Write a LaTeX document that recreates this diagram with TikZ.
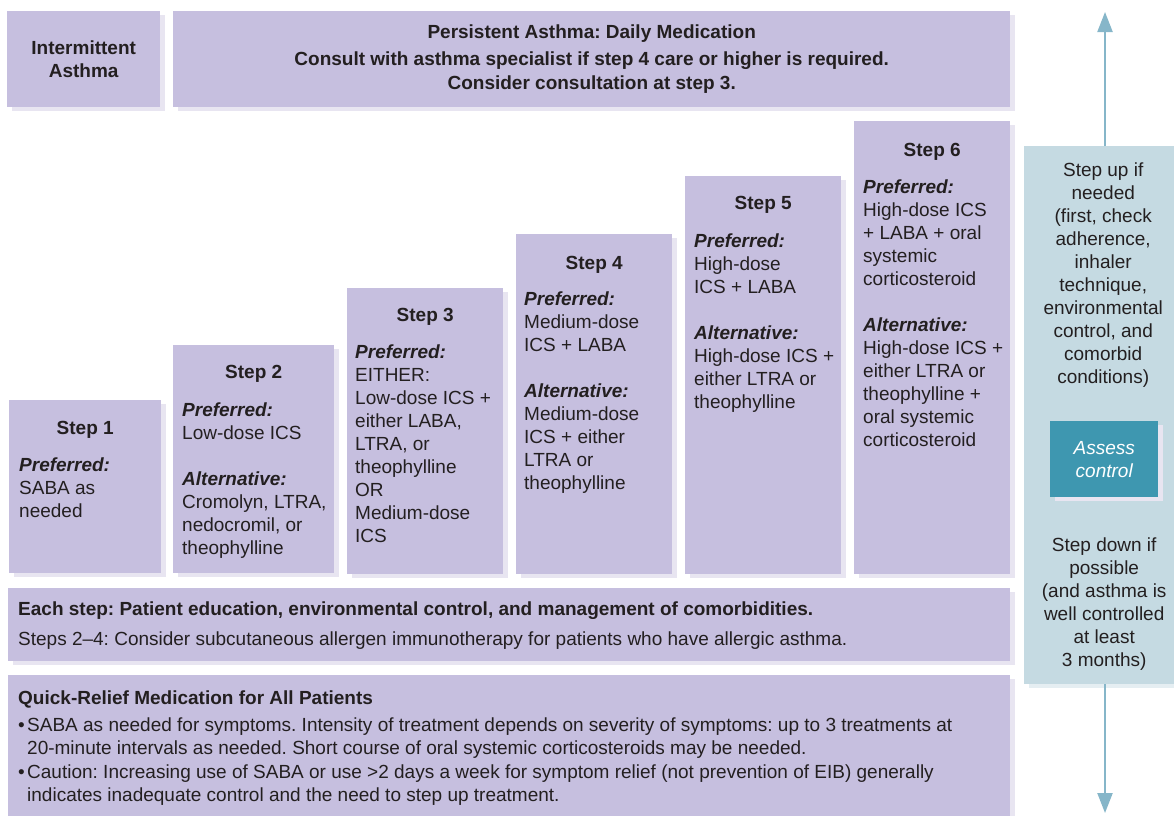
\documentclass[tikz,border=0pt]{standalone}
\usepackage{fontspec}
\setmainfont{Liberation Sans}
\usepackage{tikz}
\usetikzlibrary{positioning,shadows,arrows.meta}

\definecolor{lav}{HTML}{C6BFDF}
\definecolor{lavshade}{HTML}{E8E5F1}
\definecolor{paleblue}{HTML}{C5DAE2}
\definecolor{assesscol}{HTML}{3E97B0}
\definecolor{arrowcol}{HTML}{86B6C9}
\definecolor{ink}{HTML}{231F20}

\newcommand{\preflabel}{\textbf{\textit{Preferred:}}}
\newcommand{\altlabel}{\textbf{\textit{Alternative:}}}
\frenchspacing

\begin{document}
\begin{tikzpicture}[x=1pt, y=-1pt,
    every node/.append style={text=ink},
    box/.style={fill=lav, inner sep=0pt, anchor=north west,
      font=\fontsize{19}{23}\selectfont\bfseries, align=center,
      drop shadow={shadow xshift=5pt, shadow yshift=-4pt, fill=lavshade, opacity=1}},
    sidebox/.style={box, fill=paleblue,
      drop shadow={shadow xshift=5pt, shadow yshift=-4pt, fill=paleblue!45, opacity=1}},
    steptitle/.style={inner sep=0pt, anchor=base, font=\fontsize{19}{23}\selectfont\bfseries},
    stepbody/.style={inner sep=0pt, anchor=north west, align=left, font=\fontsize{19}{23}\selectfont},
    sidetext/.style={inner sep=0pt, anchor=north, align=center, font=\fontsize{19}{23}\selectfont},
    updown/.style={draw=arrowcol, line width=2.2pt, -{Triangle[width=15pt,length=20pt]}}]

    \useasboundingbox (0,0) rectangle (1174,815);

    % top row
    \node[box, minimum width=153pt, minimum height=96pt] (inter) at (7,11)
      {Intermittent\\Asthma};
    \node[box, minimum width=837pt, minimum height=96pt] (persist) at (173,11)
      {Persistent Asthma: Daily Medication\\[4pt]
       Consult with asthma specialist if step 4 care or higher is required.\\[1pt]
       Consider consultation at step 3.};

    % steps
    \node[box, minimum width=152pt, minimum height=173pt] (s1) at (9,400) {};
    \node[steptitle] (s1t) at ([yshift=-34pt]s1.north) {Step 1};
    \node[stepbody, below right=58pt and 10pt of s1.north west] (s1b)
      {\preflabel\\SABA as\\needed};

    \node[box, minimum width=161pt, minimum height=228pt] (s2) at (173,345) {};
    \node[steptitle] (s2t) at ([yshift=-33pt]s2.north) {Step 2};
    \node[stepbody, below right=58pt and 9pt of s2.north west] (s2b)
      {\preflabel\\Low-dose ICS\\[23pt]\altlabel\\Cromolyn, LTRA,\\nedocromil, or\\theophylline};

    \node[box, minimum width=156pt, minimum height=286pt] (s3) at (347,288) {};
    \node[steptitle] (s3t) at ([yshift=-33pt]s3.north) {Step 3};
    \node[stepbody, below right=57pt and 8pt of s3.north west] (s3b)
      {\preflabel\\EITHER:\\Low-dose ICS +\\either LABA,\\LTRA, or\\theophylline\\OR\\Medium-dose\\ICS};

    \node[box, minimum width=156pt, minimum height=340pt] (s4) at (516,234) {};
    \node[steptitle] (s4t) at ([yshift=-35pt]s4.north) {Step 4};
    \node[stepbody, below right=58pt and 8pt of s4.north west] (s4b)
      {\preflabel\\Medium-dose\\ICS + LABA\\[23pt]\altlabel\\Medium-dose\\ICS + either\\LTRA or\\theophylline};

    \node[box, minimum width=156pt, minimum height=398pt] (s5) at (685,176) {};
    \node[steptitle] (s5t) at ([yshift=-33pt]s5.north) {Step 5};
    \node[stepbody, below right=58pt and 9pt of s5.north west] (s5b)
      {\preflabel\\High-dose\\ICS + LABA\\[23pt]\altlabel\\High-dose ICS +\\either LTRA or\\theophylline};

    \node[box, minimum width=156pt, minimum height=453pt] (s6) at (854,121) {};
    \node[steptitle] (s6t) at ([yshift=-35pt]s6.north) {Step 6};
    \node[stepbody, below right=59pt and 9pt of s6.north west] (s6b)
      {\preflabel\\High-dose ICS\\+ LABA + oral\\systemic\\corticosteroid\\[23pt]\altlabel\\High-dose ICS +\\either LTRA or\\theophylline +\\oral systemic\\corticosteroid};

    % bottom boxes
    \node[box, minimum width=1002pt, minimum height=73pt] (each) at (8,588) {};
    \node[stepbody, below right=14pt and 10pt of each.north west] (eacht)
      {\textbf{Each step: Patient education, environmental control, and management of comorbidities.}\\[7pt]
       Steps 2--4: Consider subcutaneous allergen immunotherapy for patients who have allergic asthma.};

    \node[box, minimum width=1002pt, minimum height=160pt] (quick) at (8,675) {};
    \node[stepbody, below right=16pt and 10pt of quick.north west] (quickt)
      {\textbf{Quick-Relief Medication for All Patients}\\[4pt]
       \makebox[9pt][l]{\textbullet}SABA as needed for symptoms. Intensity of treatment depends on severity of symptoms: up to 3 treatments at\\
       \hspace*{9pt}20-minute intervals as needed. Short course of oral systemic corticosteroids may be needed.\\[1pt]
       \makebox[9pt][l]{\textbullet}Caution: Increasing use of SABA or use >2 days a week for symptom relief (not prevention of EIB) generally\\
       \hspace*{9pt}indicates inadequate control and the need to step up treatment.};

    % right panel
    \node[sidebox, minimum width=158pt, minimum height=538pt] (ctl) at (1024,146) {};
    \node[sidetext, below=17pt of ctl.north] (up)
      {Step up if\\needed\\(first, check\\adherence,\\inhaler\\technique,\\environmental\\control, and\\comorbid\\conditions)};
    \node[box, fill=assesscol, text=white, minimum width=108pt, minimum height=76pt,
      font=\fontsize{19}{23}\selectfont\itshape, drop shadow={opacity=0}] (assess) at (1050,421)
      {Assess\\control};
    \node[sidetext, below=40pt of assess] (down)
      {Step down if\\possible\\(and asthma is\\well controlled\\at least\\3 months)};

    \coordinate (uptip) at (1105,12);
    \coordinate (downtip) at (1105,813);
    \draw[updown] (ctl.north -| uptip) -- (uptip);
    \draw[updown] (ctl.south -| downtip) -- (downtip);

  \end{tikzpicture}
\end{document}
